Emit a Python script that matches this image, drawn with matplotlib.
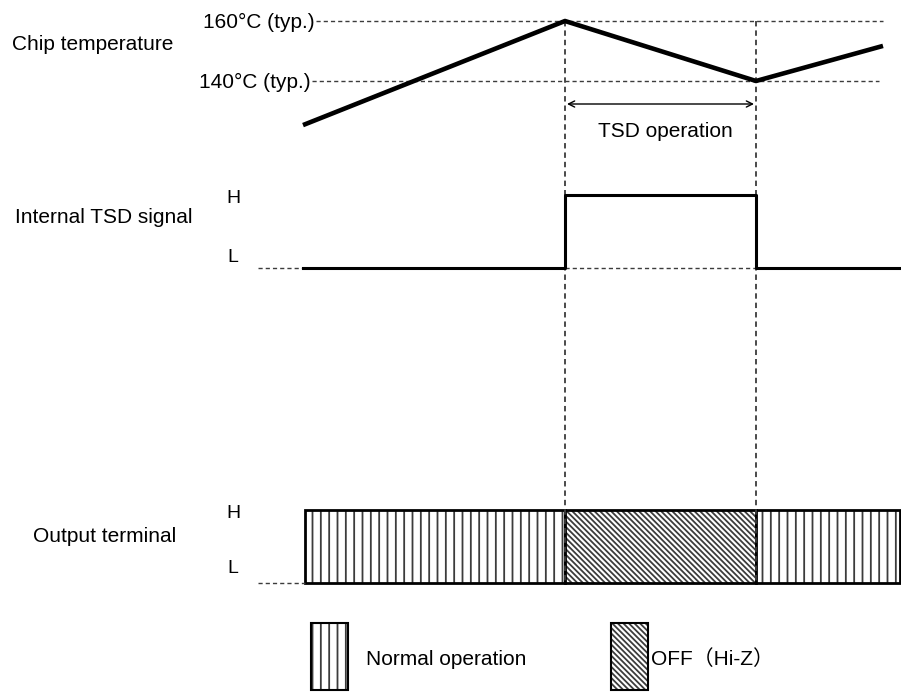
import matplotlib
matplotlib.use('Agg')
import matplotlib.pyplot as plt
from matplotlib.patches import Rectangle

W, H = 901, 698

plt.rcParams['font.family'] = ['Liberation Sans', 'Noto Sans CJK JP', 'DejaVu Sans']
plt.rcParams['hatch.linewidth'] = 1.3

# time axis of the diagram (pixel columns)
t_temp = [303, 565, 756, 883]
temp_c = [125.3, 160, 140, 151.7]      # chip temperature at those instants
t_on, t_off = 565, 756                  # TSD on / off
sig_t = [303, 565, 565, 756, 756, 900]
sig_v = [0, 0, 1, 1, 0, 0]              # internal signal, L=0 H=1
out_edges = [305, 565, 756, 900]
out_state = ['normal', 'off', 'normal']
BS = chr(92)
hatches = {'normal': '||', 'off': BS * 6}
legend_items = [('normal', 'Normal operation'), ('off', 'OFF（Hi-Z）')]

fs = 15
fs_hl = 14
dash = (0, (3, 2.2))
gray = '#3c3c3c'

fig = plt.figure(figsize=(W / 100, H / 100), dpi=100)
ax = fig.add_axes([0, 0, 1, 1])
ax.set_xlim(0, W)
ax.set_ylim(H, 0)
ax.axis('off')


def band_axes(y_top, y_bot, lo, hi):
    a = fig.add_axes([0, 1 - y_bot / H, 1, (y_bot - y_top) / H])
    a.set_xlim(0, W)
    a.set_ylim(lo, hi)
    a.axis('off')
    a.patch.set_alpha(0)
    return a


ax_t = band_axes(21, 81, 140, 160)
ax_s = band_axes(195, 268, 0, 1)

# --- chip temperature
ax_t.hlines(160, 316, 883, colors=gray, linestyles=dash, lw=1, clip_on=False)
ax_t.hlines(140, 312, 879, colors=gray, linestyles=dash, lw=1, clip_on=False)
ax_t.plot(t_temp, temp_c, color='k', lw=3.3, clip_on=False, solid_capstyle='butt')
ax.text(315, 28, '160°C (typ.)', ha='right', va='baseline', fontsize=fs)
ax.text(311, 88, '140°C (typ.)', ha='right', va='baseline', fontsize=fs)
ax.text(12, 50, 'Chip temperature', ha='left', va='baseline', fontsize=fs)

# vertical guides
ax.vlines([t_on, t_off], 21, 583, colors=gray, linestyles=dash, lw=1.3)

ax.annotate('', xy=(t_on + 2, 104), xytext=(t_off - 2, 104),
            arrowprops=dict(arrowstyle='<->', lw=1, color='k', mutation_scale=11,
                            shrinkA=0, shrinkB=0))
ax.text((t_on + t_off) / 2 + 5, 137, 'TSD operation', ha='center', va='baseline', fontsize=fs)

# --- internal TSD signal
ax_s.hlines(0, 258, 303, colors=gray, linestyles=dash, lw=1, clip_on=False)
ax_s.hlines(0, t_on, t_off, colors=gray, linestyles=dash, lw=1, clip_on=False)
ax_s.plot(sig_t, sig_v, color='k', lw=2.2, clip_on=False)
ax.text(233, 203, 'H', ha='center', va='baseline', fontsize=fs_hl)
ax.text(233, 262, 'L', ha='center', va='baseline', fontsize=fs_hl)
ax.text(15, 223, 'Internal TSD signal', ha='left', va='baseline', fontsize=fs)

# --- output terminal
y0, y1 = 510, 583
ax.hlines(y1, 258, 305, colors=gray, linestyles=dash, lw=1)
for x0, x1, st in zip(out_edges[:-1], out_edges[1:], out_state):
    ax.add_patch(Rectangle((x0, y0), x1 - x0, y1 - y0, facecolor='white',
                           edgecolor=gray, hatch=hatches[st], lw=0))
    ax.add_patch(Rectangle((x0, y0), x1 - x0, y1 - y0, facecolor='none',
                           edgecolor='k', lw=2))
ax.text(233, 518, 'H', ha='center', va='baseline', fontsize=fs_hl)
ax.text(233, 573, 'L', ha='center', va='baseline', fontsize=fs_hl)
ax.text(33, 542, 'Output terminal', ha='left', va='baseline', fontsize=fs)

# --- legend
for (st, label), lx, tx in zip(legend_items, [311, 611], [366, 651]):
    ax.add_patch(Rectangle((lx, 623), 37, 67, facecolor='white',
                           edgecolor=gray, hatch=hatches[st], lw=0))
    ax.add_patch(Rectangle((lx, 623), 37, 67, facecolor='none', edgecolor='k', lw=1.5))
    ax.text(tx, 665, label, ha='left', va='baseline', fontsize=fs)

fig.savefig('out.png', dpi=100)
